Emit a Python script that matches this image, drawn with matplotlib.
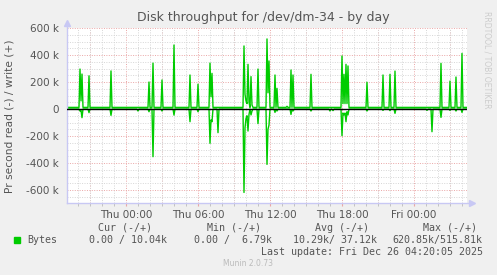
import numpy as np
import matplotlib
matplotlib.use("Agg")
from matplotlib import pyplot as plt

# data (hours relative to Thu 00:00, values in k bytes/s)
hour_start = -4.917
hour_end = 28.417
sample_step = 5 / 60          # munin 5 min samples
write_base = 12.0             # resting write level
read_base = 0.0

spike_hours = [-3.81, -3.73, -3.64, -3.06, -1.23, 1.03, 1.92, 2.28, 3.03, 4.03,
               5.36, 6.03, 7.03, 7.11, 7.19, 7.69, 9.86, 9.94, 10.03, 10.11,
               10.19, 10.28, 10.38, 10.46, 11.03, 11.72, 11.81, 11.89, 12.44, 12.61,
               13.44, 13.78, 13.94, 15.44, 17.0, 17.22, 18.03, 18.11, 18.19, 18.28,
               18.36, 18.44, 18.53, 20.11, 21.44, 22.03, 22.44, 25.06, 25.53, 26.28,
               27.03, 27.53, 28.03]
spike_write = [296, 60, 259, 246, 282, 12, 200, 340, 215, 474,
               252, 184, 340, 90, 264, 12, 467, 110, 60, 40,
               331, 50, 240, 30, 296, 519, 120, 356, 252, 153,
               20, 289, 252, 257, 12, 12, 393, 40, 257, 40,
               331, 40, 319, 198, 252, 257, 281, 12, 12, 338,
               207, 237, 412]
spike_read = [15, 10, 64, 27, 47, 15, 20, 353, 15, 45,
              94, 20, 254, 80, 94, 175, 618, 140, 70, 50,
              163, 40, 44, 15, 108, 410, 150, 119, 25, 15,
              0, 40, 15, 15, 15, 12, 198, 30, 44, 30,
              94, 20, 44, 15, 10, 12, 32, 10, 168, 62,
              10, 15, 25]

x_tick_hours = [0, 6, 12, 18, 24]
x_tick_labels = ["Thu 00:00", "Thu 06:00", "Thu 12:00", "Thu 18:00", "Fri 00:00"]
y_tick_values = [-600, -400, -200, 0, 200, 400, 600]
y_tick_labels = ["-600 k", "-400 k", "-200 k", "0", "200 k", "400 k", "600 k"]

legend_head = ["Cur (-/+)", "Min (-/+)", "Avg (-/+)", "Max (-/+)"]
legend_vals = ["0.00 / 10.04k", "0.00 /  6.79k", "10.29k/ 37.12k", "620.85k/515.81k"]

# build the sampled series
t = np.arange(hour_start, hour_end, sample_step)
write = np.full(len(t), write_base)
read = np.full(len(t), read_base)
for h, w, r in zip(spike_hours, spike_write, spike_read):
    i = int(np.argmin(np.abs(t - h)))
    write[i] = w
    read[i] = r

W, H = 497, 275
fig = plt.figure(figsize=(W / 100, H / 100), dpi=100, facecolor="#f0f0f0")
ax = fig.add_axes([67 / W, 1 - 203 / H, 400 / W, 175 / H])
ax.set_facecolor("white")

green = "#00cc00"
ax.plot(t, write, color=green, lw=1.0)
ax.plot(t, -read, color=green, lw=1.0)
ax.axhline(0, color="black", lw=1.0, zorder=5)

ax.set_xlim(hour_start, hour_end)
ax.set_ylim(-696, 600)

# grid
red = "#eaa6a6"
grey = "#d6d6d6"
dots = (0, (1, 1.5))
ax.set_xticks(x_tick_hours, x_tick_labels)
ax.set_xticks(np.arange(-4, 29, 1), minor=True)
ax.set_yticks(y_tick_values, y_tick_labels)
ax.set_yticks(np.arange(-650, 601, 50), minor=True)
ax.grid(which="minor", color=grey, ls=dots, lw=0.7)
ax.grid(which="major", color=red, ls=dots, lw=0.7)
for h in np.arange(-3, 29, 6):
    ax.axvline(h, color=red, ls=dots, lw=0.7, zorder=0.5)
ax.set_axisbelow(True)

ax.tick_params(axis="y", which="both", length=0, labelsize=7.5, labelcolor="#555555", pad=6)
ax.tick_params(axis="x", which="major", length=2, color=red, labelsize=7.5,
               labelcolor="#555555", pad=3)
ax.tick_params(axis="x", which="minor", length=2, color="#bbbbbb")

for s in ax.spines.values():
    s.set_visible(False)
axis_col = "#c8c8f4"
ax.plot([0, 1.012], [0, 0], color=axis_col, lw=1, transform=ax.transAxes, clip_on=False)
ax.plot([0, 0], [0, 1.03], color=axis_col, lw=1, transform=ax.transAxes, clip_on=False)
ax.plot([1.012], [0], marker=">", ms=4, color=axis_col, transform=ax.transAxes, clip_on=False)
ax.plot([0], [1.03], marker="^", ms=4, color=axis_col, transform=ax.transAxes, clip_on=False)

fig.text(263 / W, 1 - 18 / H, "Disk throughput for /dev/dm-34 - by day",
         ha="center", va="center", fontsize=9, color="#555555")
fig.text(10 / W, 1 - 116 / H, "Pr second read (-) / write (+)", rotation=90,
         ha="center", va="center", fontsize=7.7, color="#555555")
fig.text(487 / W, 1 - 60 / H, "RRDTOOL / TOBI OETIKER", rotation=270,
         ha="center", va="center", fontsize=5.5, color="#cccccc")

# legend block
mono = "DejaVu Sans Mono"
for x0, s in zip([98, 207, 315, 423], legend_head):
    fig.text(x0 / W, 1 - 228 / H, s, family=mono, fontsize=7.2, color="#555555",
             ha="left", va="center")
fig.patches.append(plt.Rectangle((14 / W, 1 - 243 / H), 6 / W, 6 / H,
                                 transform=fig.transFigure, color=green, figure=fig))
fig.text(27 / W, 1 - 240 / H, "Bytes", family=mono, fontsize=7.2, color="#555555",
         ha="left", va="center")
for x0, s in zip([89, 194, 293, 392], legend_vals):
    fig.text(x0 / W, 1 - 240 / H, s, family=mono, fontsize=7.2, color="#555555",
             ha="left", va="center")
fig.text(483 / W, 1 - 252 / H, "Last update: Fri Dec 26 04:20:05 2025", family=mono,
         fontsize=7.2, color="#555555", ha="right", va="center")
fig.text(248 / W, 1 - 264 / H, "Munin 2.0.73", fontsize=5.5, color="#bbbbbb",
         ha="center", va="center")

fig.savefig("out.png", dpi=100, facecolor=fig.get_facecolor())
